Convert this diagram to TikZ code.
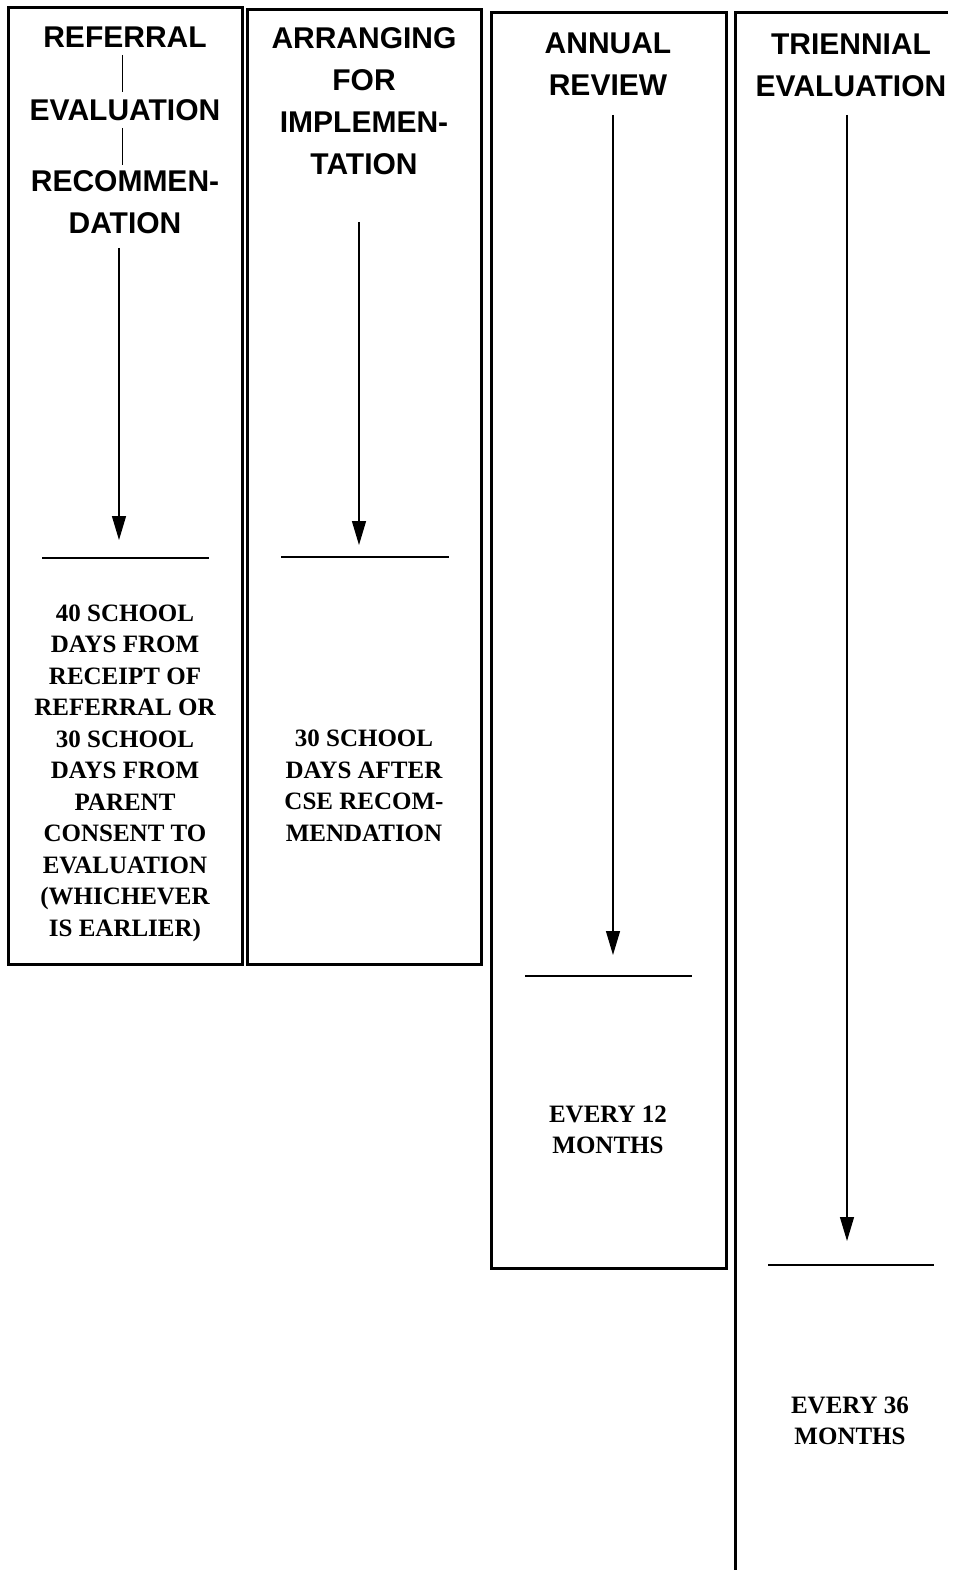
\documentclass[tikz,border=0pt]{standalone}
\usepackage{fontspec}
\setmainfont{Liberation Serif}
\newfontfamily\headfont{Liberation Sans}
\usetikzlibrary{arrows.meta}
\begin{document}
\begin{tikzpicture}[x=1pt,y=-1pt,
  boxline/.style={line width=3pt,line join=miter},
  head/.style={font=\headfont\bfseries\fontsize{30}{42}\selectfont,align=center,inner sep=0pt},
  body/.style={font=\bfseries\fontsize{25}{31.5}\selectfont,align=center,inner sep=0pt},
  flow/.style={line width=1.3pt,-{Triangle[width=14pt,length=24pt]}},
  link/.style={line width=1pt},
  rule/.style={line width=1.5pt}]
\useasboundingbox (0,0) rectangle (958,1570);
\fill[white] (0,0) rectangle (958,1570);
% boxes
\draw[boxline] (8,8) rectangle (242,964);
\draw[boxline] (247,10) rectangle (481,964);
\draw[boxline] (491,13) rectangle (726,1268);
\draw[boxline] (948,13) -- (735,13) -- (735,1572);
% column 1
\node[head] (ref) at (125,37) {REFERRAL};
\node[head] (eva) at (125,110) {EVALUATION};
\node[head] (rec) at (125,202) {RECOMMEN-\\DATION};
\coordinate (l1a) at (122,55); \coordinate (l1b) at (122,92);
\draw[link] (l1a) -- (l1b);
\coordinate (l2a) at (122,128); \coordinate (l2b) at (122,165);
\draw[link] (l2a) -- (l2b);
\coordinate (a1s) at (119,248);
\coordinate (a1e) at (119,540);
\draw[flow] (a1s) -- (a1e);
\coordinate (h1a) at (42,558); \coordinate (h1b) at (209,558);
\draw[rule] (h1a) -- (h1b);
\node[body] (t1) at (125,773) {40 SCHOOL\\DAYS FROM\\RECEIPT OF\\REFERRAL OR\\30 SCHOOL\\DAYS FROM\\PARENT\\CONSENT TO\\EVALUATION\\(WHICHEVER\\IS EARLIER)};
% column 2
\node[head] (arr) at (364,101) {ARRANGING\\FOR\\IMPLEMEN-\\TATION};
\coordinate (a2s) at (359,222);
\coordinate (a2e) at (359,545);
\draw[flow] (a2s) -- (a2e);
\coordinate (h2a) at (281,557); \coordinate (h2b) at (449,557);
\draw[rule] (h2a) -- (h2b);
\node[body] (t2) at (364,786) {30 SCHOOL\\DAYS AFTER\\CSE RECOM-\\MENDATION};
% column 3
\node[head] (ann) at (608,64) {ANNUAL\\REVIEW};
\coordinate (a3s) at (613,115);
\coordinate (a3e) at (613,955);
\draw[flow] (a3s) -- (a3e);
\coordinate (h3a) at (525,976); \coordinate (h3b) at (692,976);
\draw[rule] (h3a) -- (h3b);
\node[body] (t3) at (608,1130) {EVERY 12\\MONTHS};
% column 4
\node[head] (tri) at (851,65) {TRIENNIAL\\EVALUATION};
\coordinate (a4s) at (847,115);
\coordinate (a4e) at (847,1241);
\draw[flow] (a4s) -- (a4e);
\coordinate (h4a) at (768,1265); \coordinate (h4b) at (934,1265);
\draw[rule] (h4a) -- (h4b);
\node[body] (t4) at (850,1421) {EVERY 36\\MONTHS};
\end{tikzpicture}
\end{document}
